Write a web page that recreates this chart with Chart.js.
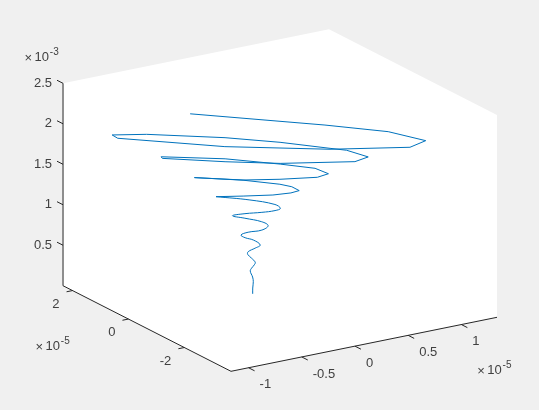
<!DOCTYPE html>
<html>
<head>
<meta charset="utf-8">
<title>plot3</title>
<script src="https://cdn.jsdelivr.net/npm/chart.js@4/dist/chart.umd.min.js"></script>
<style>
  html, body { margin: 0; padding: 0; background: #f0f0f0; overflow: hidden; }
  canvas { display: block; }
</style>
</head>
<body>
<canvas id="chart" width="539" height="410"></canvas>
<script>
// curve values, x and y in units of 1e-5, z in units of 1e-3
const xValues = [0.003, 0.006, 0.006, 0.010, -0.012, -0.017, 0.004, 0.019, 0.012, -0.031, -0.047, -0.002, 0.058,
  0.041, -0.034, -0.086, -0.079, 0.034, 0.114, 0.114, 0.011, -0.148, -0.096, 0.034, 0.145, 0.195, 0.199, 0.058,
  -0.234, -0.142, 0.072, 0.215, 0.293, 0.289, 0.232, 0.020, -0.398, -0.196, 0.044, 0.314, 0.431, 0.400, 0.206,
  -0.109, -0.616, -0.712, -0.446, -0.104, 0.399, 0.524, 0.455, 0.352, 0.071, -0.257, -0.778, -1.155, -1.158,
  -0.608, 0.002, 0.525, 0.686, 0.523, 0.170, -0.640];
const yValues = [0, 0.01, -0.01, 0.03, 0.03, -0.04, -0.05, -0.03, 0.07, 0.05, -0.03, -0.10, -0.06,
  0.12, 0.13, 0.08, -0.15, -0.21, -0.13, 0.10, 0.31, 0.15, -0.10, -0.21, -0.26, -0.26, -0.05, 0.31,
  0.41, -0.21, -0.46, -0.56, -0.56, -0.31, -0.10, 0.41, 0.56, -0.41, -0.82, -1.13, -1.08, -0.72, -0.21,
  0.56, 0.92, 0.51, -0.72, -1.39, -2.15, -2.15, -1.64, -1.44, -0.72, 0, 0.82, 0.62, 0.41,
  -1.33, -2.77, -3.64, -3.59, -2.87, -1.95, -0.21];
const zValues = [0, 0.069, 0.151, 0.200, 0.280, 0.331, 0.365, 0.390, 0.424, 0.488, 0.539, 0.582, 0.599,
  0.633, 0.680, 0.736, 0.809, 0.816, 0.835, 0.843, 0.877, 0.978, 1.034, 1.035, 1.036, 1.050, 1.060, 1.090,
  1.191, 1.283, 1.283, 1.288, 1.296, 1.301, 1.310, 1.327, 1.444, 1.531, 1.548, 1.555, 1.559, 1.571, 1.585,
  1.599, 1.696, 1.774, 1.878, 1.884, 1.905, 1.930, 1.941, 1.957, 1.980, 1.998, 2.034, 2.162, 2.159,
  2.215, 2.273, 2.311, 2.341, 2.369, 2.383, 2.432];

// axis limits and ticks
const xLim = [-1.165, 1.335];
const yLim = [-3.67, 2.34];
const zLim = [0, 2.5];
const xTicks = [-1, -0.5, 0, 0.5, 1];
const xTickLabels = ['-1', '-0.5', '0', '0.5', '1'];
const yTicks = [-2, 0, 2];
const yTickLabels = ['-2', '0', '2'];
const zTicks = [0.5, 1, 1.5, 2, 2.5];
const zTickLabels = ['0.5', '1', '1.5', '2', '2.5'];

// orthographic view of the 3d axes onto the flat chart scales
function project(x, y, z) {
  return {
    x: 252.38 + 106.4 * x - 27.95 * y,
    y: 293.88 - 21.6 * x - 14.24 * y - 80.96 * z
  };
}

const curve = xValues.map((x, i) => project(x, yValues[i], zValues[i]));

// the small turns at the bottom look round, the wide ones at the top have corners
const roundPart = 29;

const axesPlugin = {
  id: 'axes3d',
  beforeDatasetsDraw(chart) {
    const ctx = chart.ctx;
    const sx = chart.scales.x;
    const sy = chart.scales.y;
    const pt = (x, y, z) => {
      const p = project(x, y, z);
      return [sx.getPixelForValue(p.x), sy.getPixelForValue(p.y)];
    };
    const line = (a, b) => {
      ctx.beginPath();
      ctx.moveTo(a[0], a[1]);
      ctx.lineTo(b[0], b[1]);
      ctx.stroke();
    };

    const A = pt(xLim[0], yLim[1], zLim[0]);
    const B = pt(xLim[0], yLim[0], zLim[0]);
    const C = pt(xLim[1], yLim[0], zLim[0]);
    const D = pt(xLim[1], yLim[0], zLim[1]);
    const E = pt(xLim[1], yLim[1], zLim[1]);
    const F = pt(xLim[0], yLim[1], zLim[1]);

    ctx.save();
    ctx.fillStyle = '#ffffff';
    ctx.beginPath();
    [A, B, C, D, E, F].forEach((p, i) => i ? ctx.lineTo(p[0], p[1]) : ctx.moveTo(p[0], p[1]));
    ctx.closePath();
    ctx.fill();

    ctx.strokeStyle = '#262626';
    ctx.lineWidth = 1;
    line(A, F);
    line(A, B);
    line(B, C);

    ctx.font = '13px "Liberation Sans"';
    ctx.fillStyle = '#404040';
    ctx.textBaseline = 'middle';

    // x ticks
    ctx.textAlign = 'left';
    xTicks.forEach((t, i) => {
      const p = pt(t, yLim[0], zLim[0]);
      line(p, pt(t, yLim[0] - 0.215, zLim[0]));
      ctx.fillText(xTickLabels[i], p[0] + 11, p[1] + 17);
    });

    // y ticks
    ctx.textAlign = 'right';
    yTicks.forEach((t, i) => {
      const p = pt(xLim[0], t, zLim[0]);
      line(p, pt(xLim[0] - 0.056, t, zLim[0]));
      ctx.fillText(yTickLabels[i], p[0] - 13, p[1] + 13.8);
    });

    // z ticks
    zTicks.forEach((t, i) => {
      const p = pt(xLim[0], yLim[1], t);
      line(p, pt(xLim[0], yLim[1] + 0.215, t));
      ctx.fillText(zTickLabels[i], 52, p[1] - 0.3);
    });

    // exponent labels
    ctx.textAlign = 'center';
    const exponent = (x, y, power) => {
      ctx.font = '13px "Liberation Sans"';
      ctx.fillText('\u00d7', x, y);
      ctx.fillText('10', x + 13.5, y - 1);
      ctx.font = '10px "Liberation Sans"';
      ctx.fillText(power, x + 26, y - 6);
    };
    exponent(28.3, 58, '-3');
    exponent(39.3, 347, '-5');
    exponent(481, 371, '-5');
    ctx.restore();
  }
};

const curveStyle = {
  showLine: true,
  borderColor: '#0072BD',
  borderWidth: 1,
  pointRadius: 0,
  fill: false
};

new Chart(document.getElementById('chart'), {
  type: 'scatter',
  data: {
    datasets: [
      { ...curveStyle, data: curve.slice(0, roundPart), tension: 0.4 },
      { ...curveStyle, data: curve.slice(roundPart - 1), tension: 0 }
    ]
  },
  options: {
    responsive: false,
    animation: false,
    layout: { padding: 0 },
    plugins: { legend: { display: false }, tooltip: { enabled: false } },
    scales: {
      x: { type: 'linear', min: 0, max: 539, display: false },
      y: { type: 'linear', min: 0, max: 410, reverse: true, display: false }
    }
  },
  plugins: [axesPlugin]
});
</script>
</body>
</html>
